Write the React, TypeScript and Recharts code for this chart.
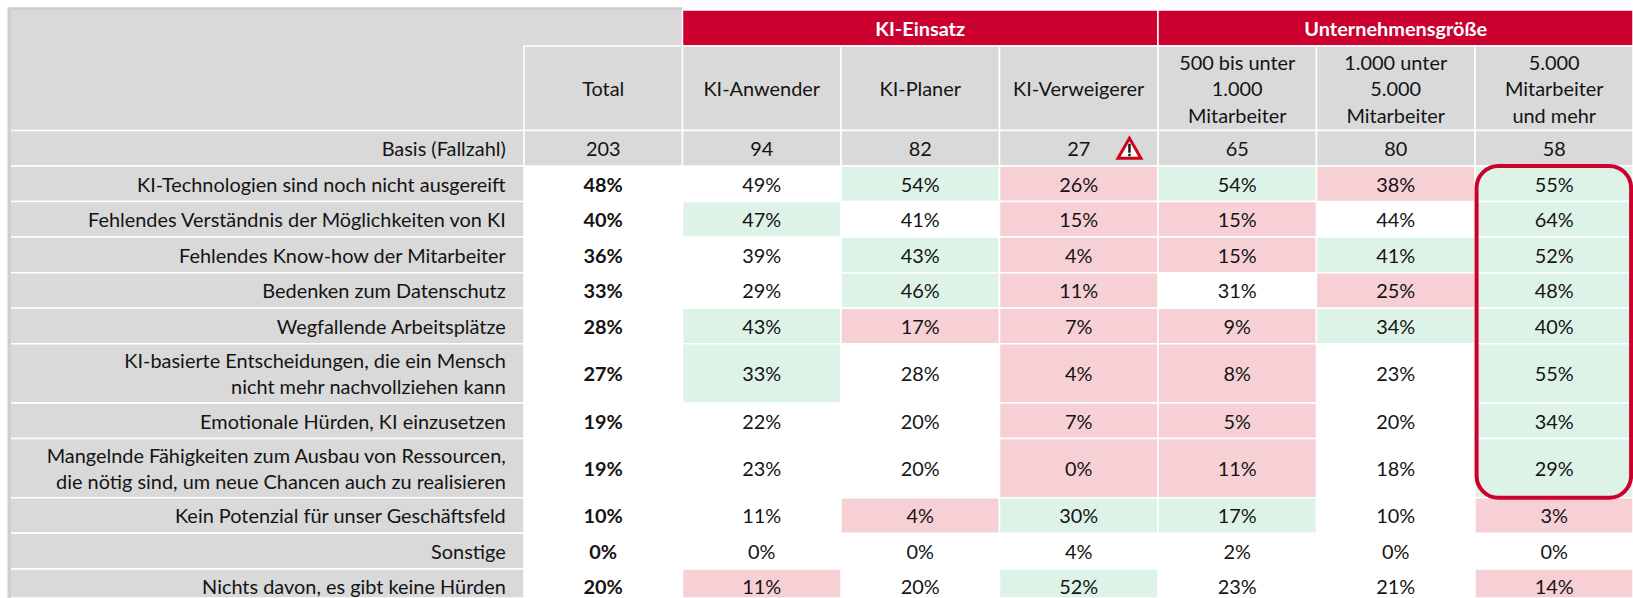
import { ScatterChart, Scatter, XAxis, YAxis, ReferenceArea } from 'recharts';

const ROW_LABELS = [
  'KI-Technologien sind noch nicht ausgereift',
  'Fehlendes Verständnis der Möglichkeiten von KI',
  'Fehlendes Know-how der Mitarbeiter',
  'Bedenken zum Datenschutz',
  'Wegfallende Arbeitsplätze',
  'KI-basierte Entscheidungen, die ein Mensch\nnicht mehr nachvollziehen kann',
  'Emotionale Hürden, KI einzusetzen',
  'Mangelnde Fähigkeiten zum Ausbau von Ressourcen,\ndie nötig sind, um neue Chancen auch zu realisieren',
  'Kein Potenzial für unser Geschäftsfeld',
  'Sonstige',
  'Nichts davon, es gibt keine Hürden',
];
const COLUMN_LABELS = [
  'Total',
  'KI-Anwender',
  'KI-Planer',
  'KI-Verweigerer',
  '500 bis unter\n1.000\nMitarbeiter',
  '1.000 unter\n5.000\nMitarbeiter',
  '5.000\nMitarbeiter\nund mehr',
];
const GROUPS = [
  { label: 'KI-Einsatz', from: 1, to: 4 },
  { label: 'Unternehmensgröße', from: 4, to: 7 },
];
const BASIS = [203, 94, 82, 27, 65, 80, 58];

const TOTAL = [48, 40, 36, 33, 28, 27, 19, 19, 10, 0, 20];
const ANWENDER = [49, 47, 39, 29, 43, 33, 22, 23, 11, 0, 11];
const PLANER = [54, 41, 43, 46, 17, 28, 20, 20, 4, 0, 20];
const VERWEIGERER = [26, 15, 4, 11, 7, 4, 7, 0, 30, 4, 52];
const SIZE_500 = [54, 15, 15, 31, 9, 8, 5, 11, 17, 2, 23];
const SIZE_1000 = [38, 44, 41, 25, 34, 23, 20, 18, 10, 0, 21];
const SIZE_5000 = [55, 64, 52, 48, 40, 55, 34, 29, 3, 0, 14];
const VALUES = [TOTAL, ANWENDER, PLANER, VERWEIGERER, SIZE_500, SIZE_1000, SIZE_5000];

// 1 = significantly above total, -1 = below, 0 = no highlight
const FLAGS_TOTAL = [0, 0, 0, 0, 0, 0, 0, 0, 0, 0, 0];
const FLAGS_ANWENDER = [0, 1, 0, 0, 1, 1, 0, 0, 0, 0, -1];
const FLAGS_PLANER = [1, 0, 1, 1, -1, 0, 0, 0, -1, 0, 0];
const FLAGS_VERWEIGERER = [-1, -1, -1, -1, -1, -1, -1, -1, 1, 0, 1];
const FLAGS_500 = [1, -1, -1, 0, -1, -1, -1, -1, 1, 0, 0];
const FLAGS_1000 = [-1, 0, 1, -1, 1, 0, 0, 0, 0, 0, 0];
const FLAGS_5000 = [1, 1, 1, 1, 1, 1, 1, 1, -1, 0, -1];
const FLAGS = [FLAGS_TOTAL, FLAGS_ANWENDER, FLAGS_PLANER, FLAGS_VERWEIGERER, FLAGS_500, FLAGS_1000, FLAGS_5000];

const WIDTH = 1633;
const HEIGHT = 598;
const FONT = 'Lato, sans-serif';
const FONT_SIZE = 19.9;
const LINE = 26.5;
const RED = '#cc002e';
const GRAY = '#d9d9d9';
const EDGE = '#cfcfcf';
const GREEN = '#def3e8';
const PINK = '#f7d0d6';
const INK = '#141414';

// plot units: one column is 1 wide, one single-line row is 1 high, origin at first data cell
const X_MIN = -3.306;
const X_MAX = 6.997;
const Y_MIN = -4.67;
const Y_MAX = 12.152;
const HEAD_TOP = -4.388;
const HEAD_MID = -3.376;
const BASIS_TOP = -1;
const EDGE_TOP = -4.464;
const EDGE_LEFT = -3.2536;
const LABEL_LEFT = -3.2366;
const LABEL_RIGHT = -0.115;
const TWO_LINE_ROW = 5 / 3;

const rowHeights = ROW_LABELS.map((l) => (l.includes('\n') ? TWO_LINE_ROW : 1));
const rowTops = rowHeights.map((_, i) => rowHeights.slice(0, i).reduce((a, b) => a + b, 0));
const clampY = (y: number) => Math.min(y, Y_MAX);
const clampX = (x: number) => Math.min(x, X_MAX);

const textPoints = [
  ...ROW_LABELS.map((text, i) => ({ x: LABEL_RIGHT, y: rowTops[i] + rowHeights[i] / 2, text, anchor: 'end' })),
  { x: LABEL_RIGHT, y: BASIS_TOP / 2, text: 'Basis (Fallzahl)', anchor: 'end' },
  ...COLUMN_LABELS.map((text, c) => ({ x: c + 0.5, y: (HEAD_MID + BASIS_TOP) / 2, text })),
  ...BASIS.map((v, c) => ({ x: c + 0.5, y: BASIS_TOP / 2, text: String(v) })),
  ...GROUPS.map((g) => ({ x: (g.from + g.to) / 2, y: (HEAD_TOP + HEAD_MID) / 2, text: g.label, bold: true, fill: '#fff' })),
  ...VALUES.flatMap((col, c) =>
    col.map((v, r) => ({ x: c + 0.5, y: rowTops[r] + rowHeights[r] / 2, text: `${v}%`, bold: c === 0 })),
  ),
];

function TextShape(props: any) {
  const { cx, cy, payload } = props;
  const lines: string[] = payload.text.split('\n');
  const first = cy - ((lines.length - 1) * LINE) / 2 + 7.8;
  return (
    <text
      x={cx}
      y={first}
      textAnchor={payload.anchor ?? 'middle'}
      fontFamily={FONT}
      fontSize={FONT_SIZE}
      fontWeight={payload.bold ? 700 : 400}
      fill={payload.fill ?? INK}
    >
      {lines.map((l, i) => (
        <tspan key={i} x={cx} y={first + i * LINE}>{l}</tspan>
      ))}
    </text>
  );
}

function WarningShape({ cx, cy }: any) {
  return (
    <g>
      <path
        d={`M${cx} ${cy - 10} L${cx + 11.5} ${cy + 10} L${cx - 11.5} ${cy + 10} Z`}
        fill="#fff"
        stroke="#d0021b"
        strokeWidth={3}
        strokeLinejoin="miter"
      />
      <rect x={cx - 1.2} y={cy - 4.5} width={2.4} height={9} fill="#111" />
      <rect x={cx - 1.2} y={cy + 5.6} width={2.4} height={2.4} fill="#111" />
    </g>
  );
}

const solid = { fillOpacity: 1, stroke: '#fff', strokeWidth: 1.5, strokeOpacity: 1 };

export default function App() {
  return (
    <div style={{ position: 'absolute', left: 0, top: 0, width: WIDTH, height: HEIGHT, background: '#fff', overflow: 'hidden' }}>
      <ScatterChart width={WIDTH} height={HEIGHT} margin={{ top: 0, right: 0, bottom: 0, left: 0 }}>
        <XAxis type="number" dataKey="x" domain={[X_MIN, X_MAX]} hide allowDataOverflow />
        <YAxis type="number" dataKey="y" domain={[Y_MIN, Y_MAX]} reversed hide allowDataOverflow />

        {/* header block */}
        <ReferenceArea x1={EDGE_LEFT} x2={1} y1={EDGE_TOP} y2={HEAD_TOP} fill={EDGE} fillOpacity={1} stroke="none" />
        <ReferenceArea x1={LABEL_LEFT} x2={1} y1={HEAD_TOP} y2={HEAD_MID} fill={GRAY} fillOpacity={1} stroke="none" />
        <ReferenceArea x1={LABEL_LEFT} x2={0} y1={HEAD_TOP} y2={BASIS_TOP} fill={GRAY} fillOpacity={1} stroke="none" />
        {GROUPS.map((g) => (
          <ReferenceArea key={g.label} x1={g.from} x2={clampX(g.to)} y1={HEAD_TOP} y2={HEAD_MID} fill={RED} {...solid} />
        ))}
        {COLUMN_LABELS.map((_, c) => (
          <ReferenceArea key={c} x1={c} x2={clampX(c + 1)} y1={HEAD_MID} y2={BASIS_TOP} fill={GRAY} {...solid} />
        ))}
        <ReferenceArea x1={EDGE_LEFT} x2={0} y1={BASIS_TOP} y2={0} fill={GRAY} {...solid} />
        {BASIS.map((_, c) => (
          <ReferenceArea key={c} x1={c} x2={clampX(c + 1)} y1={BASIS_TOP} y2={0} fill={GRAY} {...solid} />
        ))}

        {/* row labels, left border tucked under the edge strip */}
        {ROW_LABELS.map((_, r) => (
          <ReferenceArea key={r} x1={EDGE_LEFT} x2={0} y1={rowTops[r]} y2={clampY(rowTops[r] + rowHeights[r])} fill={GRAY} {...solid} />
        ))}
        <ReferenceArea x1={EDGE_LEFT - 0.005} x2={LABEL_LEFT} y1={EDGE_TOP} y2={Y_MAX} fill={EDGE} fillOpacity={1} stroke="none" />

        {/* highlighted cells */}
        {FLAGS.flatMap((col, c) =>
          col.map((flag, r) =>
            flag === 0 ? null : (
              <ReferenceArea
                key={`${c}-${r}`}
                x1={c}
                x2={clampX(c + 1)}
                y1={rowTops[r]}
                y2={clampY(rowTops[r] + rowHeights[r])}
                fill={flag > 0 ? GREEN : PINK}
                {...solid}
              />
            ),
          ),
        )}

        {/* marked column */}
        <ReferenceArea x1={6.01} x2={6.985} y1={0} y2={rowTops[8]} fill="none" stroke={RED} strokeWidth={4} strokeOpacity={1} radius={22} />

        <Scatter data={textPoints} isAnimationActive={false} shape={<TextShape />} />
        <Scatter data={[{ x: 3.82, y: BASIS_TOP / 2 }]} isAnimationActive={false} shape={<WarningShape />} />
      </ScatterChart>
    </div>
  );
}
